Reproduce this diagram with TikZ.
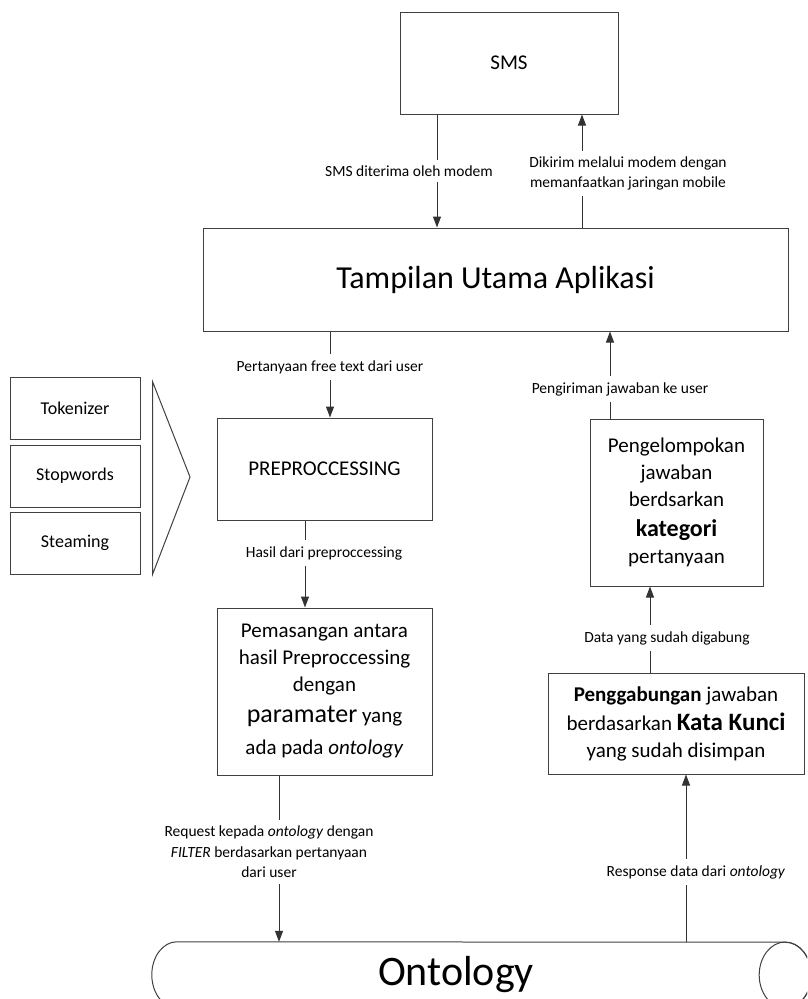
\documentclass[tikz,border=0pt]{standalone}
\usepackage{fontspec}
\setmainfont{Carlito}
\usetikzlibrary{arrows.meta,positioning}

\tikzset{
  blok/.style={draw=black!75, line width=1pt, inner sep=0pt, align=center, font=\fontsize{21}{27}\selectfont},
  lbl/.style={fill=white, inner xsep=2pt, inner ysep=6pt, align=center, font=\fontsize{15.5}{20.5}\selectfont},
  arr/.style={draw=black!80, line width=1pt, -{Triangle[length=11pt,width=8pt]}},
}

\begin{document}
\begin{tikzpicture}[x=1pt, y=-1pt]
    \clip (0,0) rectangle (807,999);

    \node[blok, minimum width=218pt, minimum height=102pt] (sms) at (509,63) {SMS};
    \node[blok, minimum width=585pt, minimum height=103pt, font=\fontsize{32}{32}\selectfont] (utama) at (495.5,279.5) {Tampilan Utama Aplikasi};

    % kiri
    \node[blok, minimum width=215pt, minimum height=102pt] (prep) at (324.5,469) {PREPROCCESSING};
    \node[blok, minimum width=215pt, minimum height=167pt] (pasang) at (324.5,691.5)
    {Pemasangan antara\\ hasil Preproccessing\\ dengan\\[4pt] {\fontsize{26}{27}\selectfont paramater} yang\\[5pt] ada pada \textit{ontology}};

    \node[blok, minimum width=130pt, minimum height=62pt, font=\fontsize{18}{22}\selectfont] (tok) at (75,408) {Tokenizer};
    \node[blok, minimum width=130pt, minimum height=62pt, font=\fontsize{18}{22}\selectfont, below=5pt of tok] (stop) {Stopwords};
    \node[blok, minimum width=130pt, minimum height=62pt, font=\fontsize{18}{22}\selectfont, below=4pt of stop] (steam) {Steaming};
    \draw[draw=black!75, line width=1pt] ([xshift=12pt, yshift=-5pt]tok.north east) -- (190,477) -- ([xshift=12pt]steam.south east) -- cycle;

    % kanan
    \node[blok, minimum width=173pt, minimum height=167pt] (kelompok) at (676.5,502.5)
    {Pengelompokan\\ jawaban\\ berdsarkan\\[3pt] {\bfseries\fontsize{24}{27}\selectfont kategori}\\ pertanyaan};
    \node[blok, minimum width=256pt, minimum height=101pt] (gabung) at (676,723.5)
    {\textbf{Penggabungan} jawaban\\[2pt] berdasarkan {\bfseries\fontsize{25}{27}\selectfont Kata Kunci}\\ yang sudah disimpan};

    % ontology
    \node[minimum width=608pt, minimum height=66pt, inner sep=0pt, font=\fontsize{42}{42}\selectfont] (onto) at (481,975) {Ontology\hspace*{50pt}};
    \draw[draw=black!75, line width=1pt] (onto.north west) arc[start angle=90, end angle=270, x radius=25pt, y radius=33pt]
      -- (onto.south east) arc[start angle=-90, end angle=90, x radius=26pt, y radius=33pt] -- cycle;
    \draw[draw=black!75, line width=1pt] (onto.east) ellipse[x radius=26pt, y radius=33pt];

    % panah
    \draw[arr] ([xshift=-72pt]sms.south) -- ([xshift=-72pt]sms.south |- utama.north);
    \node[lbl] (l1) at (409,171) {SMS diterima oleh modem};
    \draw[arr] ([xshift=86.5pt]utama.north) -- ([xshift=86.5pt]utama.north |- sms.south);
    \node[lbl] (l2) at (628,173.5) {Dikirim melalui modem dengan\\ memanfaatkan jaringan mobile};

    \draw[arr] ([xshift=-165.5pt]utama.south) -- ([xshift=-165.5pt]utama.south |- prep.north);
    \node[lbl] (l3) at (330,367) {Pertanyaan free text dari user};
    \draw[arr] ([xshift=-19.5pt]prep.south) -- ([xshift=-19.5pt]prep.south |- pasang.north);
    \node[lbl] (l4) at (324,553) {Hasil dari preproccessing};
    \draw[arr] ([xshift=-45.5pt]pasang.south) -- ([xshift=-45.5pt]pasang.south |- onto.north);
    \node[lbl] (l5) at (269,852) {Request kepada \textit{ontology} dengan\\ \textit{FILTER} berdasarkan pertanyaan\\ dari user};

    \draw[arr] ([xshift=10pt]gabung.south |- onto.north) -- ([xshift=10pt]gabung.south);
    \node[lbl] (l6) at (696,872) {Response data dari \textit{ontology}};
    \draw[arr] ([xshift=-26pt]gabung.north) -- ([xshift=-26pt]gabung.north |- kelompok.south);
    \node[lbl] (l7) at (667,638) {Data yang sudah digabung};
    \draw[arr] ([xshift=-66.5pt]kelompok.north) -- ([xshift=-66.5pt]kelompok.north |- utama.south);
    \node[lbl] (l8) at (620,389) {Pengiriman jawaban ke user};
\end{tikzpicture}
\end{document}
